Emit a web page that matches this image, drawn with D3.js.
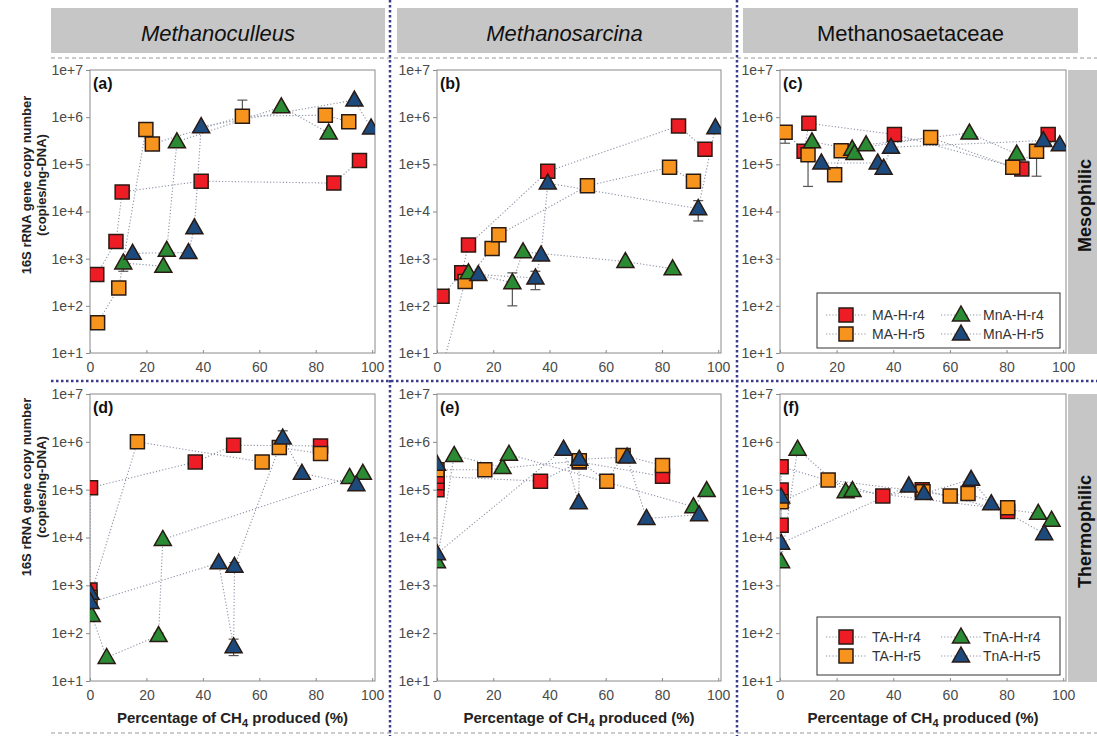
<!DOCTYPE html>
<html>
<head>
<meta charset="utf-8">
<script src="https://cdn.jsdelivr.net/npm/d3@7"></script>
<style>
  body { margin: 0; background: #fff; }
  text { font-family: "Liberation Sans", Arial, sans-serif; }
</style>
</head>
<body>
<script>
// column headers and row strips
var genera = ["Methanoculleus", "Methanosarcina", "Methanosaetaceae"];
var temps = ["Mesophilic", "Thermophilic"];
var legendMeso = ["MA-H-r4", "MA-H-r5", "MnA-H-r4", "MnA-H-r5"];
var legendThermo = ["TA-H-r4", "TA-H-r5", "TnA-H-r4", "TnA-H-r5"];
var panelLetters = ["(a)", "(b)", "(c)", "(d)", "(e)", "(f)"];
var xTicks = [0, 20, 40, 60, 80, 100];
var yTicks = [1e1, 1e2, 1e3, 1e4, 1e5, 1e6, 1e7];

// [ % CH4 produced, copies/ng-DNA ]  -- r4 square, r5 square, r4 triangle, r5 triangle
var aSq4 = [[2.4,460],[9.2,2300],[11.4,26000],[39.4,44000],[86.4,40000],[95.5,120000]];
var aSq5 = [[2.7,44],[10.2,240],[19.8,550000],[22.1,270000],[54,1050000],[83.4,1100000],[91.7,800000]];
var aTri4 = [[11.8,810],[26,690],[27.2,1500],[30.8,300000],[67.8,1660000],[84.6,460000]];
var aTri5 = [[15.1,1300],[34.9,1350],[37,4500],[39.4,630000],[93.7,2300000],[99.6,590000]];

var bSq4 = [[1.8,160],[8.8,500],[11.2,1950],[39.4,71000],[85.9,650000],[95.3,210000]];
var bSq5 = [[1.5,4],[10,330],[19.6,1650],[22,3200],[53.5,35000],[82.7,87000],[91.2,44000]];
var bTri4 = [[11.2,500],[26.8,310],[30.6,1400],[67,870],[83.8,610]];
var bTri5 = [[14.7,460],[35,390],[37,1200],[39.4,40000],[92.9,11500],[99,600000]];

var cSq4 = [[8.5,190000],[10.2,740000],[40.4,430000],[85.4,80000],[94.7,430000]];
var cSq5 = [[1.8,480000],[9.9,160000],[19.3,60000],[21.6,195000],[53.2,370000],[82.2,87000],[90.6,190000]];
var cTri4 = [[11.3,300000],[25.5,210000],[26.3,170000],[30.4,260000],[66.9,460000],[83.6,165000]];
var cTri5 = [[14.6,107000],[34.5,107000],[36.6,83000],[39.2,230000],[93,320000],[98.8,260000]];

var dSq4 = [[0,800],[0.2,110000],[37.3,380000],[50.9,850000],[81.7,820000]];
var dSq5 = [[0,560],[16.8,1000000],[61,380000],[67.1,760000],[81.7,570000]];
var dTri4 = [[0.6,235],[5.9,31],[24.3,89],[25.8,9100],[92,180000],[96.7,220000]];
var dTri5 = [[0.2,680],[0.2,440],[45.6,2950],[50.9,52],[51.2,2500],[68.3,1200000],[75.1,220000],[94.4,127000]];

var eSq4 = [[0,100000],[0,140000],[0,190000],[36.8,150000],[50.6,380000],[80.2,190000]];
var eSq5 = [[0,260000],[17,260000],[50.6,400000],[60.4,150000],[66.2,520000],[80.2,320000]];
var eTri4 = [[0,3100],[6.1,520000],[23.3,290000],[25.6,550000],[91.2,44000],[95.9,96000]];
var eTri5 = [[0,340000],[0,4600],[45,700000],[50.4,53000],[50.6,430000],[67.6,480000],[74.5,25000],[93.2,30000]];

var fSq4 = [[0.4,18000],[0.4,98000],[0.4,300000],[36.3,74000],[50.2,100000],[80.4,35000]];
var fSq5 = [[0.4,56000],[17,160000],[50.5,90000],[60.1,74000],[66.4,83000],[80.4,42000]];
var fTri4 = [[0.4,3100],[6.2,700000],[23.2,91000],[25.6,96000],[91.2,32000],[95.9,23000]];
var fTri5 = [[0.4,70000],[0.4,7600],[45.5,120000],[50.8,83000],[67.5,165000],[74.6,51000],[93.3,12000]];

// error bars: [series, x, low, high]
var aErr = [[1,54,1050000,2300000],[2,11.8,540,810]];
var bErr = [[2,26.8,100,500],[3,35,220,540],[3,92.9,6300,17000]];
var cErr = [[1,1.8,280000,480000],[1,9.9,34000,160000],[1,90.6,56000,190000]];
var dErr = [[3,50.9,34,75],[3,51.2,1900,3000],[3,68.3,1200000,1700000],[2,24.3,75,100]];
var eErr = [];
var fErr = [];

var W = 1097, H = 736;
var fills = ["#ee1c24", "#f7941d", "#2b8a34", "#1c4a7c"];
var shapes = ["square", "square", "triangle", "triangle"];

var cols = [{l: 90, r: 375}, {l: 437, r: 721}, {l: 780, r: 1066}];
var rows = [{t: 70, b: 353}, {t: 394, b: 681}];

var panels = [
  {col: 0, row: 0, series: [aSq4, aSq5, aTri4, aTri5], err: aErr},
  {col: 1, row: 0, series: [bSq4, bSq5, bTri4, bTri5], err: bErr},
  {col: 2, row: 0, series: [cSq4, cSq5, cTri4, cTri5], err: cErr, legend: legendMeso},
  {col: 0, row: 1, series: [dSq4, dSq5, dTri4, dTri5], err: dErr},
  {col: 1, row: 1, series: [eSq4, eSq5, eTri4, eTri5], err: eErr},
  {col: 2, row: 1, series: [fSq4, fSq5, fTri4, fTri5], err: fErr, legend: legendThermo}
];

var svg = d3.select("body").append("svg")
    .attr("width", W)
    .attr("height", H);

// header strips
genera.forEach(function(g, i) {
  var x0 = [51, 397, 743][i], x1 = [385, 732, 1078][i];
  svg.append("rect").attr("x", x0).attr("y", 8).attr("width", x1 - x0).attr("height", 45)
      .attr("fill", "#c6c6c6");
  svg.append("text").attr("x", (x0 + x1) / 2).attr("y", 41)
      .attr("text-anchor", "middle")
      .attr("font-size", 22)
      .attr("font-style", i < 2 ? "italic" : "normal")
      .attr("fill", "#111")
      .text(g);
});

// side strips
temps.forEach(function(t, i) {
  var r = rows[i];
  svg.append("rect").attr("x", 1068).attr("y", r.t).attr("width", 29).attr("height", r.b - r.t + 1)
      .attr("fill", "#c6c6c6");
  svg.append("text")
      .attr("transform", "translate(1091," + ((r.t + r.b) / 2 - 6) + ") rotate(-90)")
      .attr("text-anchor", "middle")
      .attr("font-size", 18)
      .attr("font-weight", "bold")
      .attr("fill", "#111")
      .text(t);
});

// separators
svg.append("line").attr("x1", 51).attr("x2", W).attr("y1", 58).attr("y2", 58)
    .attr("stroke", "#999").attr("stroke-dasharray", "4,3");
svg.append("line").attr("x1", 51).attr("x2", W).attr("y1", 733).attr("y2", 733)
    .attr("stroke", "#999").attr("stroke-dasharray", "4,3");
svg.append("line").attr("x1", 51).attr("x2", W).attr("y1", 381).attr("y2", 381)
    .attr("stroke", "#3c3c8c").attr("stroke-width", 2.5).attr("stroke-dasharray", "2.5,2.5");
[390, 737].forEach(function(x) {
  svg.append("line").attr("x1", x).attr("x2", x).attr("y1", 0).attr("y2", H)
      .attr("stroke", "#3c3c8c").attr("stroke-width", 2.5).attr("stroke-dasharray", "2.5,2.5");
});

var markerPath = function(shape) {
  if (shape === "square") return "M-7,-7H7V7H-7Z";
  return "M0,-9L8.5,6L-8.5,6Z";
};

panels.forEach(function(p, pi) {
  var c = cols[p.col], r = rows[p.row];
  var x = d3.scaleLinear().domain([0, 101]).range([c.l, c.r]);
  var y = d3.scaleLog().domain([10, 1e7]).range([r.b, r.t]);

  var g = svg.append("g");
  var clipId = "clip" + pi;
  g.append("clipPath").attr("id", clipId).append("rect")
      .attr("x", c.l).attr("y", r.t).attr("width", c.r - c.l).attr("height", r.b - r.t);

  g.append("rect").attr("x", c.l).attr("y", r.t).attr("width", c.r - c.l).attr("height", r.b - r.t)
      .attr("fill", "#fff").attr("stroke", "#8a8a8a").attr("stroke-width", 1);

  var yAxis = g.append("g").attr("transform", "translate(" + c.l + ",0)")
      .call(d3.axisLeft(y).tickValues(yTicks).tickSize(4).tickPadding(3)
        .tickFormat(function(d) { return "1e+" + Math.round(Math.log10(d)); }));
  var xAxis = g.append("g").attr("transform", "translate(0," + r.b + ")")
      .call(d3.axisBottom(x).tickValues(xTicks).tickSize(-3).tickPadding(9));
  [yAxis, xAxis].forEach(function(a) {
    a.attr("font-size", 14).attr("font-family", "Liberation Sans, Arial, sans-serif");
    a.select(".domain").remove();
    a.selectAll("line").attr("stroke", "#8a8a8a");
    a.selectAll("text").attr("fill", "#4a4a4a");
  });

  var line = d3.line()
      .x(function(d) { return x(d[0]); })
      .y(function(d) { return y(d[1]); });

  var lines = g.append("g").attr("clip-path", "url(#" + clipId + ")");
  p.series.forEach(function(s) {
    lines.append("path").attr("d", line(s))
        .attr("fill", "none")
        .attr("stroke", "#8d93a6")
        .attr("stroke-width", 1.1)
        .attr("stroke-dasharray", "1.2,2");
  });

  p.err.forEach(function(e) {
    var ex = x(e[1]);
    g.append("line").attr("x1", ex).attr("x2", ex).attr("y1", y(e[2])).attr("y2", y(e[3]))
        .attr("stroke", "#555").attr("stroke-width", 1.2);
    [e[2], e[3]].forEach(function(v) {
      g.append("line").attr("x1", ex - 5).attr("x2", ex + 5).attr("y1", y(v)).attr("y2", y(v))
          .attr("stroke", "#555").attr("stroke-width", 1.2);
    });
  });

  var marks = g.append("g").attr("clip-path", "url(#" + clipId + ")");
  p.series.forEach(function(s, si) {
    marks.selectAll(null).data(s).enter().append("path")
        .attr("transform", function(d) { return "translate(" + x(d[0]) + "," + y(d[1]) + ")"; })
        .attr("d", markerPath(shapes[si]))
        .attr("fill", fills[si])
        .attr("stroke", "#2a1a14")
        .attr("stroke-width", 1.5);
  });

  g.append("text").attr("x", c.l + 3).attr("y", r.t + 19)
      .attr("font-size", 16).attr("font-weight", "bold").attr("fill", "#111")
      .text(panelLetters[pi]);

  if (p.row === 1) {
    var t = g.append("text").attr("x", (c.l + c.r) / 2).attr("y", 723)
        .attr("text-anchor", "middle").attr("font-size", 15).attr("font-weight", "bold")
        .attr("fill", "#222");
    t.append("tspan").text("Percentage of CH");
    t.append("tspan").attr("font-size", 11).attr("dy", 4).text("4");
    t.append("tspan").attr("dy", -4).text(" produced (%)");
  }

  if (p.col === 0) {
    var cy = p.row === 0 ? 185 : 487;
    var yt = g.append("text").attr("transform", "translate(31," + cy + ") rotate(-90)")
        .attr("text-anchor", "middle").attr("font-size", 13).attr("font-weight", "bold")
        .attr("fill", "#222");
    yt.append("tspan").attr("x", 0).attr("dy", 0).text("16S rRNA gene copy number");
    yt.append("tspan").attr("x", 0).attr("dy", 15).text("(copies/ng-DNA)");
  }

  if (p.legend) {
    var lt = p.row === 0 ? 293 : 617, lh = p.row === 0 ? 55 : 58;
    var lg = g.append("g");
    lg.append("rect").attr("x", 817).attr("y", lt).attr("width", 243).attr("height", lh)
        .attr("fill", "#fff").attr("stroke", "#333").attr("stroke-width", 1);
    p.legend.forEach(function(name, li) {
      var lx = li < 2 ? 846 : 961;
      var ly = lt + (p.row === 0 ? 22 : 20) + (li % 2) * 19;
      lg.append("line").attr("x1", lx - 20).attr("x2", lx + 20).attr("y1", ly).attr("y2", ly)
          .attr("stroke", "#8d93a6").attr("stroke-width", 1.1).attr("stroke-dasharray", "1.2,2");
      lg.append("path").attr("transform", "translate(" + lx + "," + ly + ")")
          .attr("d", markerPath(shapes[li]))
          .attr("fill", fills[li]).attr("stroke", "#2a1a14").attr("stroke-width", 1.5);
      lg.append("text").attr("x", lx + (li < 2 ? 26 : 22)).attr("y", ly + 5)
          .attr("font-size", 14).attr("fill", "#333")
          .text(name);
    });
  }
});
</script>
</body>
</html>
